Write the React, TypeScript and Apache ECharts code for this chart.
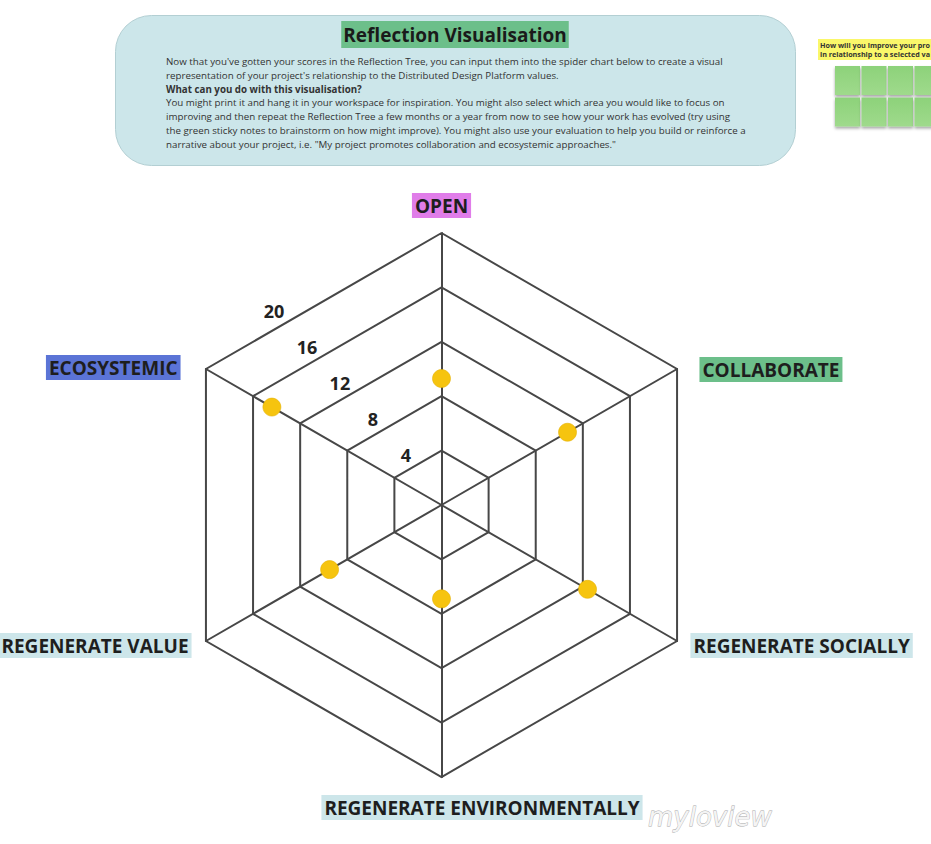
import React, { useEffect, useRef } from "react";
import * as echarts from "echarts";

// Indicators in ECharts radar order (counter-clockwise from top)
const categories = [
  "OPEN",
  "ECOSYSTEMIC",
  "REGENERATE VALUE",
  "REGENERATE ENVIRONMENTALLY",
  "REGENERATE SOCIALLY",
  "COLLABORATE",
];
const scores = [9.3, 14.4, 9.5, 6.9, 12.4, 10.7];
const labelColors = ["#E07DE9", "#5B74D6", "#CDE6EA", "#CDE6EA", "#CDE6EA", "#6CBF8A"];
const tickValues = [4, 8, 12, 16, 20];
const maxScore = 20;

const titleText = "Reflection Visualisation";
const bodyLines = [
  "Now that you've gotten your scores in the Reflection Tree, you can input them into the spider chart below to create a visual",
  "representation of your project's relationship to the Distributed Design Platform values.",
  "What can you do with this visualisation?",
  "You might print it and hang it in your workspace for inspiration. You might also select which area you would like to focus on",
  "improving and then repeat the Reflection Tree a few months or a year from now to see how your work has evolved (try using",
  "the green sticky notes to brainstorm on how might improve). You might also use your evaluation to help you build or reinforce a",
  'narrative about your project, i.e. "My project promotes collaboration and ecosystemic approaches."',
];
const boldLines = [2];
// visible part of the sticky-note prompt (cut by the page edge in the reference)
const stickyHeader = ["How will you improve your pro", "in relationship to a selected va"];
const stickyCols = 4;
const stickyRows = 2;

// per-name layout nudges (block padding: top, right, bottom, left)
const namePads: number[][] = [
  [0, 0, 5, 0],
  [9, 15, 0, 0],
  [0, 4, 3, 0],
  [8, 0, 0, 81],
  [0, 0, 3, 3],
  [13, 0, 0, 12],
];

const FONT = "'Open Sans', 'Noto Sans', sans-serif";

export default function App() {
  const ref = useRef<HTMLDivElement>(null);
  useEffect(() => {
    if (!ref.current) return;
    const chart = echarts.init(ref.current, undefined, { renderer: "svg" });

    const rich: Record<string, any> = {};
    categories.forEach((c, i) => {
      rich["k" + i] = {
        fontFamily: FONT,
        fontWeight: "bold",
        fontSize: 19,
        lineHeight: 21,
        color: "#1e1e1e",
        backgroundColor: labelColors[i],
        padding: [3, 3, 3, 3],
      };
    });

    const graphics: any[] = [];
    // info box
    graphics.push({
      type: "rect",
      shape: { x: 115.5, y: 15.5, width: 680, height: 150, r: 36 },
      style: { fill: "#CCE6EA", stroke: "#b3cfd3", lineWidth: 1 },
      z: 1,
    });
    graphics.push({
      type: "text",
      x: 455,
      y: 34.5,
      style: {
        text: titleText,
        fontFamily: FONT,
        fontWeight: "bold",
        fontSize: 19,
        lineHeight: 21,
        fill: "#1a1a1a",
        align: "center",
        verticalAlign: "middle",
        backgroundColor: "#6CBF8A",
        padding: [3, 2, 3, 2],
      },
      z: 2,
    });
    bodyLines.forEach((line, i) => {
      graphics.push({
        type: "text",
        x: 166,
        y: 61.5 + i * 13.8,
        style: {
          text: line,
          fontFamily: FONT,
          fontWeight: boldLines.includes(i) ? "bold" : "normal",
          fontSize: 9.75,
          fill: "#333333",
          align: "left",
          verticalAlign: "middle",
        },
        z: 2,
      });
    });
    // sticky notes
    graphics.push({
      type: "rect",
      shape: { x: 818, y: 39, width: 130, height: 21 },
      style: { fill: "#FAF76A" },
      z: 1,
    });
    stickyHeader.forEach((t, i) => {
      graphics.push({
        type: "text",
        x: 820,
        y: 44.5 + i * 9.5,
        style: {
          text: t,
          fontFamily: FONT,
          fontWeight: "bold",
          fontSize: 7.2,
          fill: "#333",
          verticalAlign: "middle",
        },
        z: 2,
      });
    });
    for (let r = 0; r < stickyRows; r++) {
      for (let c = 0; c < stickyCols; c++) {
        graphics.push({
          type: "rect",
          shape: { x: 835 + c * 26.5, y: 66 + r * 31.5, width: 25, height: 29 },
          style: {
            fill: new echarts.graphic.LinearGradient(0, 0, 0, 1, [
              { offset: 0, color: "#8DD27A" },
              { offset: 1, color: "#9FDA8C" },
            ]),
            shadowBlur: 3,
            shadowOffsetY: 2,
            shadowColor: "rgba(0,0,0,0.35)",
          },
          z: 1,
        });
      }
    }
    // watermark
    graphics.push({
      type: "text",
      x: 648,
      y: 817,
      style: {
        text: "myloview",
        fontFamily: "'DejaVu Sans', sans-serif",
        fontStyle: "italic",
        fontSize: 26,
        fill: "#f4f4f4",
        stroke: "#a9a9a9",
        lineWidth: 0.8,
        verticalAlign: "middle",
      },
      z: 2,
    });

    chart.setOption({
      animation: false,
      backgroundColor: "#ffffff",
      radar: {
        center: [441.5, 505],
        radius: 272,
        startAngle: 90,
        shape: "polygon",
        splitNumber: 5,
        nameGap: 12,
        indicator: categories.map((c, i) => ({
          name: c,
          min: 0,
          max: maxScore,
          nameTextStyle: { padding: namePads[i] },
        })),
        axisName: {
          formatter: (name: string) => {
            const i = categories.indexOf(name);
            return "{k" + i + "|" + name + "}";
          },
          rich,
        },
        splitArea: { show: false },
        splitLine: { lineStyle: { color: "#474747", width: 2 } },
        axisLine: { lineStyle: { color: "#474747", width: 2 } },
        axisTick: { show: false },
        axisLabel: { show: false },
      },
      polar: { center: [438.8, 491], radius: 244 },
      angleAxis: { show: false, startAngle: 132.5, min: 0, max: 360 },
      radiusAxis: {
        min: 0,
        max: maxScore,
        interval: 4,
        axisLine: { show: false },
        axisTick: { show: false },
        splitLine: { show: false },
        axisLabel: {
          show: true,
          margin: 0,
          align: "center",
          verticalAlign: "middle",
          showMinLabel: false,
          fontFamily: FONT,
          fontWeight: "bold",
          fontSize: 18,
          color: "#222222",
          formatter: (v: number) => (tickValues.includes(v) ? String(v) : ""),
        },
      },
      series: [
        {
          type: "radar",
          symbol: "circle",
          symbolSize: 18,
          itemStyle: { color: "#F6C40F", borderColor: "#E4B000", borderWidth: 0.6 },
          lineStyle: { opacity: 0, width: 0 },
          data: [{ value: scores, name: "Score" }],
          z: 5,
        },
      ],
      graphic: graphics,
    });
    return () => chart.dispose();
  }, []);
  return (
    <div
      ref={ref}
      style={{ position: "absolute", left: 0, top: 0, width: 931, height: 844 }}
    />
  );
}
